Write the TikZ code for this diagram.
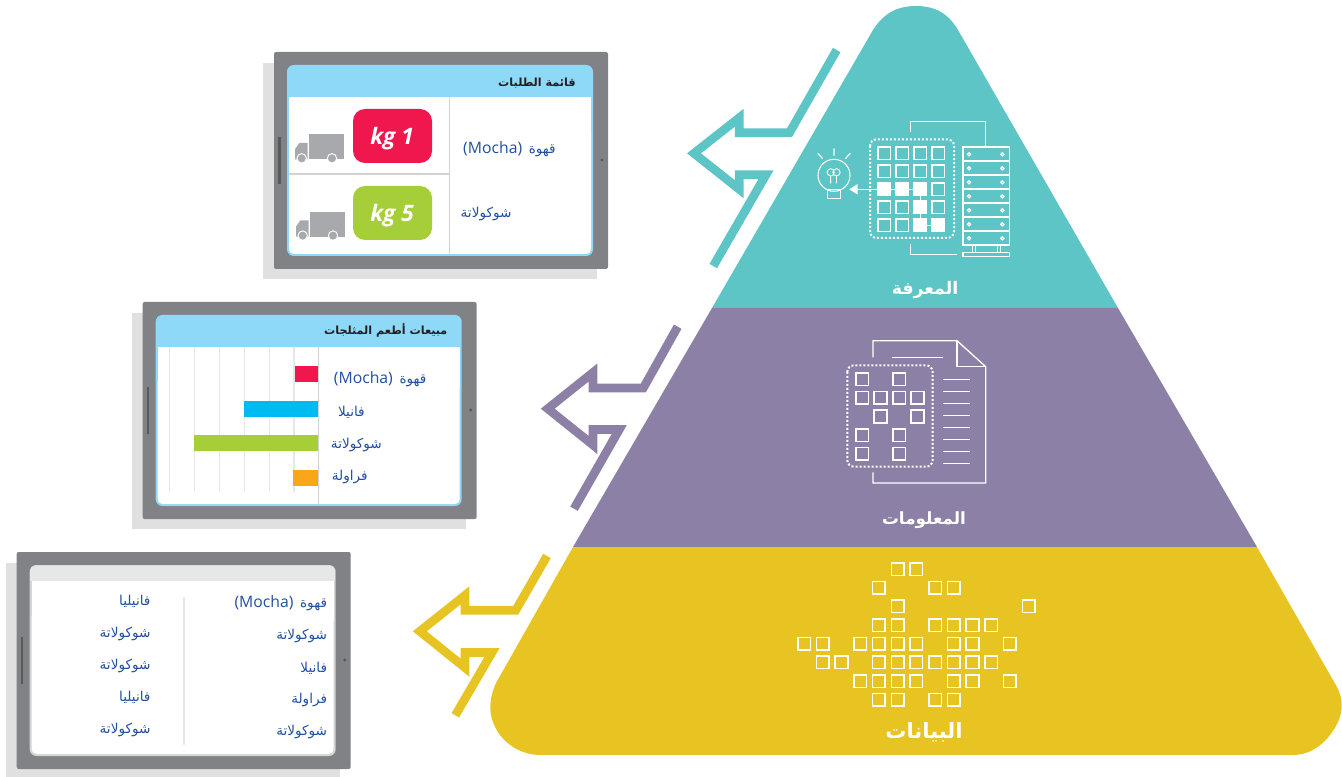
\documentclass[tikz,border=0pt]{standalone}
\usepackage{fontspec}
\setmainfont{Open Sans}
\newfontfamily\arabicfont[Script=Arabic]{DejaVu Sans}
\newfontfamily\latinfont{Open Sans}
\TeXXeTstate=1
\definecolor{cteal}{HTML}{5EC5C6}
\definecolor{cpurple}{HTML}{8C80A6}
\definecolor{cyellow}{HTML}{E8C422}
\definecolor{cbody}{HTML}{808285}
\definecolor{cshadow}{HTML}{E0E0E0}
\definecolor{cbar}{HTML}{58595B}
\definecolor{csky}{HTML}{8ED8F8}
\definecolor{cline}{HTML}{D1D3D4}
\definecolor{cgrid}{HTML}{E6E7E8}
\definecolor{cred}{HTML}{F0174F}
\definecolor{cgreen}{HTML}{A6CE39}
\definecolor{cblue}{HTML}{00BBF2}
\definecolor{corange}{HTML}{FAA61A}
\definecolor{ctruck}{HTML}{A7A9AC}
\definecolor{ctext}{HTML}{23509F}
\definecolor{cdark}{HTML}{231F20}
\tikzset{
  bigarrow/.style={draw=#1,line width=6.5pt,miter limit=12,line join=miter,line cap=butt},
  wl/.style={draw=white,line width=1.1pt},
  dots/.style={draw=white,line width=1.5pt,dash pattern=on 1.5pt off 1.5pt,rounded corners=5pt},
  sq/.style={draw=white,line width=1.2pt},
  pyrlabel/.style={text=white,inner sep=0pt,yshift=-1.6pt,font=\arabicfont\bfseries\fontsize{#1}{16}\selectfont},
  rowtext/.style={text=ctext,inner sep=0pt,anchor=east,yshift=-1.2pt,font=\arabicfont\fontsize{10.2}{12}\selectfont},
  headtext/.style={text=cdark,inner sep=0pt,anchor=east,font=\arabicfont\bfseries\fontsize{8.4}{10}\selectfont},
  kgtext/.style={text=white,inner sep=0pt,font=\latinfont\bfseries\itshape\fontsize{17}{19}\selectfont},
}
\newcommand{\mocha}{\beginR قهوة\hspace{5pt}{\latinfont\fontsize{11.8}{12}\selectfont\beginL(Mocha)\endL}\endR}
\newcommand{\tabletbase}[4]{%
  \begin{scope}[shift={(#1,#2)}]
    \fill[cshadow] (-11,11) rectangle (323,227);
    \fill[cbody,rounded corners=1.5pt] (0,0) rectangle (334,217);
    \fill[#3,rounded corners=5pt] (13,13) rectangle (319,204);
    \fill[white,rounded corners=3.5pt] (15,#4+30) rectangle (317,202);
    \fill[white] (15,#4) rectangle (317,#4+40);
    \draw[cbar,line width=2.2pt] (5.3,85) -- (5.3,132);
    \fill[cbar] (328,108) circle (1.7);
  \end{scope}}
\newcommand{\truck}[2]{%
  \begin{scope}[shift={(#1,#2)}]
    \fill[ctruck] (309,134.3) rectangle (344,159.3);
    \fill[ctruck] (295,159.3) -- (295,149.3) -- (299.3,143) -- (307.7,143) -- (307.7,159.3) -- cycle;
    \fill[ctruck,draw=white,line width=0.7pt] (301.7,158.3) circle (4.7) (332,158.3) circle (4.7);
  \end{scope}}
\begin{document}
\begin{tikzpicture}[x=0.75pt,y=-0.75pt]
\useasboundingbox (0,0) rectangle (1342,777);
% pyramid
\fill[cteal] (712,308) -- (873,30) .. controls (885,11) and (900,6) .. (916,6) .. controls (932,6) and (947,11) .. (958,30) -- (1118,308) -- cycle;
\fill[cpurple] (712,308) -- (1118,308) -- (1257,547) -- (573,547) -- cycle;
\fill[cyellow] (573,547) -- (1257,547) -- (1337,687) .. controls (1345,703) and (1343,718) .. (1330,735) .. controls (1320,748) and (1307,755) .. (1293,755) -- (540,755) .. controls (525,755) and (510,748) .. (500,735) .. controls (489,720) and (487,703) .. (496,683) -- cycle;
% arrows
\draw[bigarrow=cteal] (836.7,50) -- (789.5,132.7) -- (739.3,132.7) -- (739.3,117.7) -- (694,153.3) -- (739.3,189.3) -- (739.3,174.7) -- (766,174.7) -- (713.3,266);
\draw[bigarrow=cpurple] (677.7,326.7) -- (643.3,388) -- (593,388) -- (593,372.5) -- (547.7,408.7) -- (593,445) -- (593,429.5) -- (619.3,429.5) -- (574,508.7);
\draw[bigarrow=cyellow] (547,556) -- (515.7,610.3) -- (465,610.3) -- (465,595.3) -- (419.8,631.3) -- (465,667.7) -- (465,652.5) -- (492,652.5) -- (455.3,715.3);
% knowledge icon
\foreach \r in {0,...,4}\foreach \c in {0,...,3}
  \draw[sq] ({884.3+18*\c-6.3},{153.3+18*\r-6.3}) rectangle +(12.6,12.6);
\foreach \c/\r in {0/2,1/2,2/2,2/3,2/4,3/4}
  \fill[white] ({884.3+18*\c-7},{153.3+18*\r-7}) rectangle +(14,14);
\draw[wl] (920.3,189.3) -- (920.3,225.3) -- (938.3,225.3);
\draw[wl] (920.3,189.3) -- (855,189.3);
\fill[white] (849.3,189.3) -- (857.7,184) -- (857.7,194.6) -- cycle;
\draw[dots] (870,139.3) rectangle (954,238);
\foreach \i in {0,...,6}{
  \draw[wl,line width=0.9pt] (963,{147+14*\i}) rectangle (1009.7,{161+14*\i});
  \draw[white,line width=0.9pt] (969,{154.3+14*\i}) circle (1.6) (1002.3,{154.3+14*\i}) circle (1.6);
}
\draw[wl,line width=0.9pt] (972.7,245) -- (972.7,252.3) (975.7,245) -- (975.7,252.3) (997.3,245) -- (997.3,252.3) (1000.3,245) -- (1000.3,252.3);
\draw[wl,line width=0.9pt] (963,252.3) rectangle (1009.7,256.7);
\draw[wl,line width=0.9pt] (985.7,147) -- (985.7,121.7) -- (910.3,121.7) -- (910.3,131.7);
\draw[wl,line width=0.9pt] (910.3,243.7) -- (910.3,254.7) -- (956.7,254.7);
\draw[wl,line width=0.8pt] (834,175.3) circle (16);
\draw[wl,line width=0.8pt] (827.3,189.3) rectangle (840.7,198.7);
\draw[wl,line width=0.9pt] (834,148.3) -- (834,155.7) (817.7,153.3) -- (822.7,158.7) (850.3,153.3) -- (845.3,158.7);
\draw[wl,line width=0.7pt] (830.7,172.3) circle (3.6) (836.5,172.3) circle (3.6) (830.7,176) -- (830.7,183.3) (836.5,176) -- (836.5,183.3);
\node[pyrlabel=13] (knowledge) at (925,287.5) {\beginR المعرفة\endR};
% information icon
\draw[wl,line width=1pt] (873,357.3) -- (873,340.7) -- (957,340.7) -- (985.7,366.7) -- (985.7,483) -- (873,483) -- (873,472.3);
\draw[wl,line width=1pt] (957,340.7) -- (957,366.7) -- (985.7,366.7);
\draw[wl,line width=1pt] (892.3,357.7) -- (942.7,357.7);
\foreach \i in {0,...,7} \draw[wl,line width=1pt] (943.3,{379.3+12*\i}) -- (970,{379.3+12*\i});
\draw[dots] (847.3,365.3) rectangle (932.7,466.7);
\foreach \c/\r in {0/0,2/0,0/1,1/1,2/1,3/1,1/2,3/2,0/3,2/3,0/4,2/4}
  \draw[sq] ({862+18.5*\c-6.3},{379.3+18.6*\r-6.3}) rectangle +(12.6,12.6);
\node[pyrlabel=12.6] (information) at (924,518) {\beginR المعلومات\endR};
% data icon
\foreach \c/\r in {5/0,6/0,4/1,7/1,8/1,5/2,12/2,4/3,5/3,7/3,8/3,9/3,10/3,0/4,1/4,3/4,4/4,5/4,6/4,8/4,9/4,11/4,1/5,2/5,4/5,5/5,6/5,7/5,8/5,9/5,10/5,3/6,4/6,5/6,6/6,8/6,9/6,11/6,4/7,5/7,7/7,8/7}
  \draw[sq] ({804+18.72*\c-6.3},{569+18.67*\r-6.3}) rectangle +(12.6,12.6);
\node[pyrlabel=15.8] (data) at (924,730) {\beginR البيانات\endR};
% tablet 1
\tabletbase{274}{52}{csky}{45}
\draw[cline,line width=1.1pt] (449.3,97) -- (449.3,254);
\draw[cline,line width=1.1pt] (289,174) -- (449.3,174);
\fill[cred,rounded corners=9pt] (353,109) rectangle (432,163);
\fill[cgreen,rounded corners=9pt] (353,186) rectangle (432,240);
\node[kgtext] (kg1) at (392,138.5) {kg 1};
\node[kgtext] (kg5) at (392,215.5) {kg 5};
\truck{0}{0}
\truck{1}{77.3}
\node[headtext] (t1head) at (576,83) {\beginR قائمة الطلبات\endR};
\node[rowtext] (t1a) at (556,148) {\mocha};
\node[rowtext] (t1b) at (511.7,212) {\beginR شوكولاتة\endR};
% tablet 2
\tabletbase{142.7}{302}{csky}{45}
\foreach \x in {169.3,194.3,219.3,244.3,269.3,294}
  \draw[cgrid,line width=0.8pt] (\x,347) -- (\x,492.3);
\draw[cline,line width=1.1pt] (318.3,347) -- (318.3,504);
\fill[cred] (295,366) rectangle (317.7,382);
\fill[cblue] (244,401) rectangle (317.7,417);
\fill[cgreen] (194,435) rectangle (317.7,451);
\fill[corange] (293,470) rectangle (317.7,486);
\node[headtext] (t2head) at (447.7,330.7) {\beginR مبيعات أطعم المثلجات\endR};
\node[rowtext] (t2a) at (426.7,378) {\mocha};
\node[rowtext] (t2b) at (365,411) {\beginR فانيلا\endR};
\node[rowtext] (t2c) at (382,443) {\beginR شوكولاتة\endR};
\node[rowtext] (t2d) at (368,475.7) {\beginR فراولة\endR};
% tablet 3
\tabletbase{16.7}{552}{cline}{29.3}
\fill[cgrid,rounded corners=4pt] (30,565.5) rectangle (335,575);
\fill[cgrid] (30,570) rectangle (335,581.3);
\draw[cgrid,line width=1.1pt] (184,597) -- (184,744.7);
\node[rowtext] (t3a) at (327.3,602) {\mocha};
\node[rowtext] (t3b) at (327.3,634.3) {\beginR شوكولاتة\endR};
\node[rowtext] (t3c) at (327.3,666.7) {\beginR فانيلا\endR};
\node[rowtext] (t3d) at (327.3,698.7) {\beginR فراولة\endR};
\node[rowtext] (t3e) at (327.3,730.3) {\beginR شوكولاتة\endR};
\node[rowtext] (t3f) at (150.7,600) {\beginR فانيليا\endR};
\node[rowtext] (t3g) at (150.7,632.7) {\beginR شوكولاتة\endR};
\node[rowtext] (t3h) at (150.7,664.7) {\beginR شوكولاتة\endR};
\node[rowtext] (t3i) at (150.7,696) {\beginR فانيليا\endR};
\node[rowtext] (t3j) at (150.7,728.3) {\beginR شوكولاتة\endR};
\end{tikzpicture}
\end{document}
